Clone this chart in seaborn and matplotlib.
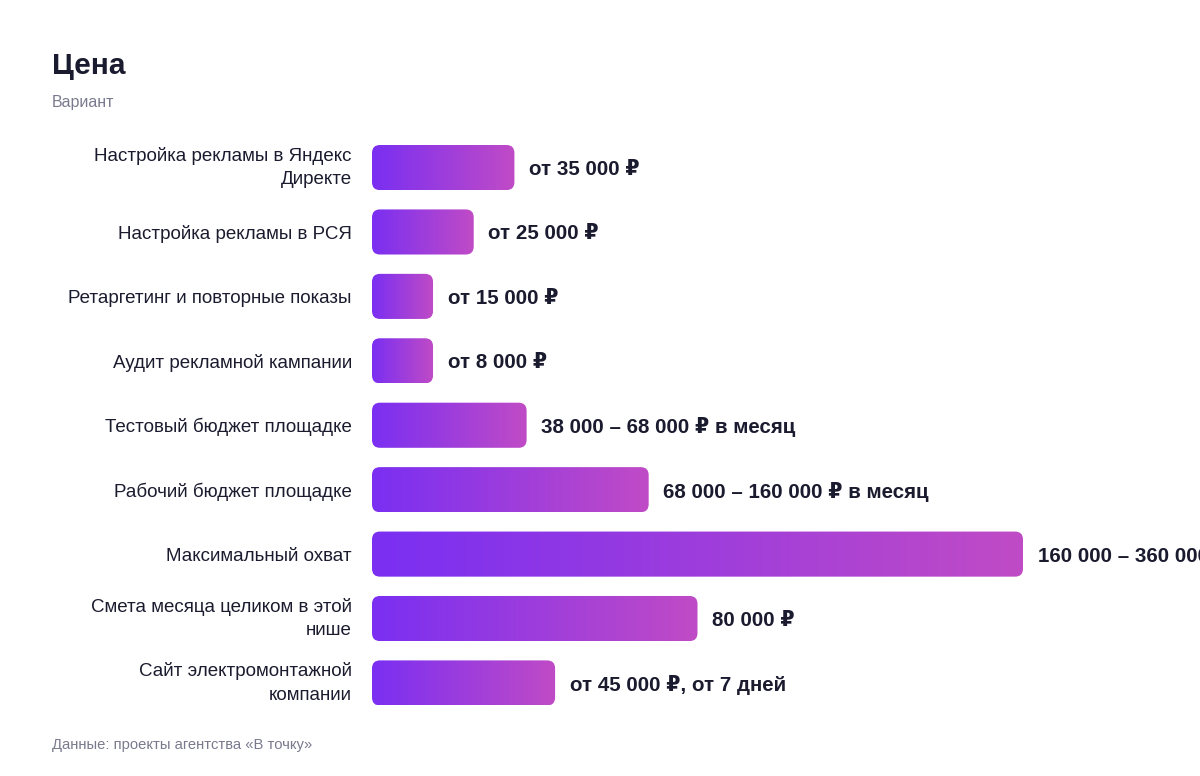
import numpy as np
import pandas as pd
import matplotlib
matplotlib.use("Agg")
import matplotlib.pyplot as plt
import seaborn as sns
from matplotlib.patches import FancyBboxPatch
from matplotlib.colors import LinearSegmentedColormap

categories = [
    "Настройка рекламы в Яндекс\nДиректе",
    "Настройка рекламы в РСЯ",
    "Ретаргетинг и повторные показы",
    "Аудит рекламной кампании",
    "Тестовый бюджет площадке",
    "Рабочий бюджет площадке",
    "Максимальный охват",
    "Смета месяца целиком в этой\nнише",
    "Сайт электромонтажной\nкомпании",
]
values = [35000, 25000, 15000, 8000, 38000, 68000, 160000, 80000, 45000]
value_labels = [
    "от 35 000 ₽",
    "от 25 000 ₽",
    "от 15 000 ₽",
    "от 8 000 ₽",
    "38 000 – 68 000 ₽ в месяц",
    "68 000 – 160 000 ₽ в месяц",
    "160 000 – 360 000 ₽ в месяц",
    "80 000 ₽",
    "от 45 000 ₽, от 7 дней",
]

MIN_VISIBLE = 15000
df = pd.DataFrame({"cat": categories, "val": values})
df["shown"] = df["val"].clip(lower=MIN_VISIBLE)

sns.set_theme(style="white")
plt.rcParams["font.family"] = ["Liberation Sans", "DejaVu Sans"]

DARK = "#1b1b2f"
GREY = "#7a7a8e"
C_LEFT = "#7a2ff2"
C_RIGHT = "#c04bc6"

fig = plt.figure(figsize=(12, 7.76), dpi=100)
ax = fig.add_axes([372 / 1200, 0.0784, 651 / 1200, 0.8256 - 0.0784])

sns.barplot(data=df, y="cat", x="shown", orient="h", ax=ax, width=0.70,
            color=C_LEFT, saturation=1)
ax.set_xlim(0, 160000)
ax.set_ylim(len(categories) - 0.5, -0.5)

# rounded gradient bars
fig.canvas.draw()
bbox = ax.get_window_extent()
xpp = 160000 / bbox.width
ypp = len(categories) / bbox.height
aspect = ypp / xpp
radius_px = 8
cmap = LinearSegmentedColormap.from_list("g", [C_LEFT, C_RIGHT])
grad = np.linspace(0, 1, 256).reshape(1, -1)
patches = list(ax.patches)
for p in patches:
    x0, y0 = p.get_x(), p.get_y()
    w, h = p.get_width(), p.get_height()
    p.remove()
    fb = FancyBboxPatch((x0, y0), w, h,
                        boxstyle=f"round,pad=0,rounding_size={radius_px * xpp}",
                        mutation_aspect=aspect, facecolor="none", edgecolor="none")
    ax.add_patch(fb)
    im = ax.imshow(grad, extent=(x0, x0 + w, y0 + h, y0), cmap=cmap,
                   aspect="auto", interpolation="bilinear", zorder=2)
    im.set_clip_path(fb)

ax.set_xlim(0, 160000)
ax.set_ylim(len(categories) - 0.5, -0.5)

for i, (v, lab) in enumerate(zip(df["shown"], value_labels)):
    ax.annotate(lab, (v, i), xytext=(10.5, 0), textcoords="offset points",
                ha="left", va="center_baseline", fontsize=14.8, fontweight="bold",
                color=DARK, annotation_clip=False, clip_on=False)

ax.set_xlabel("")
ax.set_ylabel("")
ax.set_xticks([])
ax.tick_params(axis="y", length=0, pad=14.5, labelsize=13.5, labelcolor=DARK)
for t in ax.get_yticklabels():
    t.set_multialignment("right")
    t.set_linespacing(1.5)
    if "\n" in t.get_text():
        t.set_va("center")
sns.despine(ax=ax, left=True, bottom=True)

fig.text(52 / 1200, 1 - 66 / 776, "Цена", fontsize=21.5, fontweight="bold",
         color=DARK, ha="left", va="center")
fig.text(52 / 1200, 1 - 102 / 776, "Вариант", fontsize=11.5, color=GREY,
         ha="left", va="center")
fig.text(52 / 1200, 1 - 745 / 776, "Данные: проекты агентства «В точку»",
         fontsize=10.6, color=GREY, ha="left", va="center")

fig.savefig("out.png", dpi=100, facecolor="white")
